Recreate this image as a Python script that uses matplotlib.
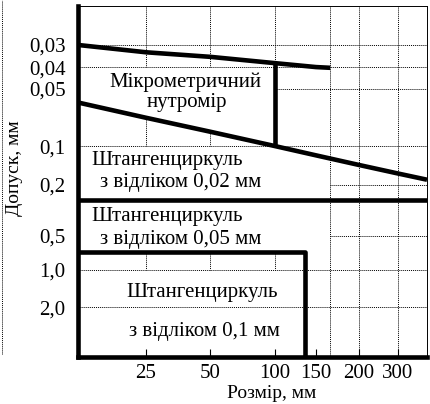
import numpy as np
import matplotlib.pyplot as plt
from matplotlib.lines import Line2D

plt.rcParams['font.family'] = ['Liberation Serif', 'DejaVu Serif']

# ------------------------------------------------------------
# Values (size and tolerance in mm)
# ------------------------------------------------------------
size_ticks = [25, 50, 100, 150, 200, 300]
size_labels = ["25", "50", "100", "150", "200", "300"]
tol_ticks = [0.03, 0.04, 0.05, 0.1, 0.2, 0.5, 1.0, 2.0]
tol_labels = ["0,03", "0,04", "0,05", "0,1", "0,2", "0,5", "1,0", "2,0"]

# upper limit of the micrometer zone
micro_size = [12, 25, 50, 100, 150, 165]
micro_tol = [0.030, 0.033, 0.035, 0.038, 0.040, 0.0403]
micro_limit = 100          # right edge of the micrometer zone

# lower limit of the micrometer / upper limit of the 0,02 caliper
cal02_size = [12, 25, 50, 100, 150, 200, 300, 400]
cal02_tol = [0.059, 0.071, 0.084, 0.10, 0.118, 0.140, 0.163, 0.182]

cal05_tol = 0.26           # border between 0,02 and 0,05 calipers
cal1_tol = 0.7             # border between 0,05 and 0,1 calipers
cal1_size = 135            # right edge of the 0,1 caliper zone

size_min, size_max = 12, 400
tol_min, tol_max = 0.02, 5.0

# grid lines of the diagram
vgrid_full = [165, 200, 300]
hgrid_full = [0.03, 0.04, 0.1, 1.0, 2.0]

# ------------------------------------------------------------
# The diagram's axes are not uniform: place of each value along
# the axis (0..1), log-interpolated in between
# ------------------------------------------------------------
x_knots = [12, 25, 50, 100, 150, 200, 300, 400]
x_place = [0, 0.195, 0.378, 0.564, 0.682, 0.805, 0.917, 1.0]
y_knots = [0.02, 0.03, 0.04, 0.05, 0.1, 0.2, 0.5, 1.0, 2.0, 5.0]
y_place = [0, 0.111, 0.174, 0.236, 0.399, 0.510, 0.655, 0.752, 0.858, 1.0]


def nomo_scale(knots, place):
    lk = np.log(knots)
    pl = np.asarray(place, float)

    def fwd(v):
        v = np.log(np.clip(np.asarray(v, float), 1e-9, None))
        return np.interp(v, lk, pl)

    def inv(p):
        return np.exp(np.interp(np.asarray(p, float), pl, lk))

    return fwd, inv


fig = plt.figure(figsize=(4.31, 4.04), dpi=100)
ax = fig.add_axes([78 / 431, 47 / 404, 349 / 431, 351 / 404])

ax.set_xscale('function', functions=nomo_scale(x_knots, x_place))
ax.set_yscale('function', functions=nomo_scale(y_knots, y_place))
ax.set_xlim(size_min, size_max)
ax.set_ylim(tol_max, tol_min)   # small tolerances on top

# ---- grid (only the visible stretches) ----
g = dict(color='black', lw=0.7, linestyle=(0, (1, 1)), zorder=1)
for x in vgrid_full:
    ax.vlines(x, tol_min, tol_max, **g)
for x in [25, 50]:
    ax.vlines(x, tol_min, 0.04, **g)
    ax.vlines(x, cal02_tol[cal02_size.index(x)], 0.1, **g)
    ax.vlines(x, cal1_tol, 1.0, **g)
ax.vlines(micro_limit, tol_min, micro_tol[micro_size.index(micro_limit)], **g)
ax.vlines(micro_limit, cal1_tol, 1.0, **g)
for y in hgrid_full:
    ax.hlines(y, size_min, size_max, **g)
ax.hlines(0.05, micro_limit, size_max, **g)
ax.hlines([0.2, 0.5], 165, size_max, **g)

# ---- zone borders ----
t = dict(color='black', lw=3.3, solid_capstyle='butt', zorder=3)
ax.plot(micro_size, micro_tol, **t)
ax.plot(cal02_size, cal02_tol, **t)
ax.plot([micro_limit, micro_limit],
        [micro_tol[micro_size.index(micro_limit)], cal02_tol[cal02_size.index(micro_limit)]], **t)
ax.plot([size_min, size_max], [cal05_tol, cal05_tol], **t)
ax.plot([size_min, cal1_size, cal1_size], [cal1_tol, cal1_tol, tol_max], **t)

# ---- zone names ----
fs = 15
txt = [
    (0.307, 0.783, "Мікрометричний"),
    (0.312, 0.726, "нутромір"),
    (0.255, 0.561, "Штангенциркуль"),
    (0.295, 0.496, "з відліком 0,02 мм"),
    (0.255, 0.399, "Штангенциркуль"),
    (0.295, 0.336, "з відліком 0,05 мм"),
    (0.355, 0.185, "Штангенциркуль"),
    (0.361, 0.074, "з відліком 0,1 мм"),
]
for x, y, s in txt:
    ax.text(x, y, s, transform=ax.transAxes, ha='center', va='center',
            fontsize=fs, zorder=4)

# ---- axes ----
ax.set_xticks(size_ticks, size_labels)
ax.set_yticks(tol_ticks, tol_labels)
ax.minorticks_off()
ax.tick_params(axis='x', direction='in', length=6, width=0.8, pad=5, labelsize=fs)
ax.tick_params(axis='y', length=0, pad=9, labelsize=fs)

for side in ['left', 'bottom']:
    ax.spines[side].set_linewidth(3.3)
for side in ['top', 'right']:
    ax.spines[side].set_linewidth(0.7)
    ax.spines[side].set_linestyle((0, (1, 1)))

ax.set_xlabel("Розмір, мм", fontsize=14)
ax.xaxis.set_label_coords(0.556, -0.08)
ax.set_ylabel("Допуск, мм", fontsize=14)
ax.yaxis.set_label_coords(-0.158, 0.538)

# dotted border left of the scan
fig.add_artist(Line2D([0.004, 0.004], [1 - 354 / 404, 1.0], transform=fig.transFigure,
                      color='black', lw=0.7, linestyle=(0, (1, 1))))

fig.savefig('out.png', dpi=100)
